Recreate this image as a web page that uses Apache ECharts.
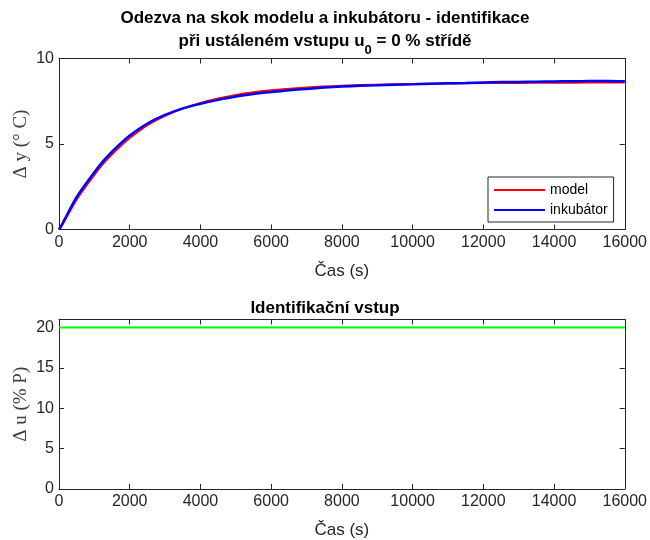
<!DOCTYPE html>
<html>
<head>
<meta charset="utf-8">
<script src="https://cdn.jsdelivr.net/npm/echarts@6/dist/echarts.min.js"></script>
<style>html,body{margin:0;padding:0;background:#fff;}#c{width:650px;height:540px;}</style>
</head>
<body>
<div id="c"></div>
<script>
// Time axis ticks (s)
const timeTicks = [0, 2000, 4000, 6000, 8000, 10000, 12000, 14000, 16000];
// Model response (time s, Δy °C)
const modelTime = [0, 100, 250, 500, 750, 1000, 1250, 1500, 1750, 2000, 2500, 3000, 3500, 4000, 4500, 5000, 5500, 6000, 7000, 8000, 9000, 10000, 11000, 12000, 13000, 14000, 15000, 16000];
const modelY    = [0, 0.3, 0.85, 1.75, 2.5, 3.2, 3.85, 4.4, 4.9, 5.35, 6.1, 6.65, 7.07, 7.4, 7.66, 7.87, 8.03, 8.15, 8.31, 8.41, 8.47, 8.51, 8.54, 8.56, 8.57, 8.58, 8.59, 8.6];
// Incubator measurement (time s, Δy °C)
const incTime = [0, 100, 250, 500, 750, 1000, 1250, 1500, 1750, 2000, 2500, 3000, 3500, 4000, 4500, 5000, 5500, 6000, 6500, 7000, 7500, 8000, 8500, 9000, 9500, 10000, 10500, 11000, 11500, 12000, 12500, 13000, 13500, 14000, 14500, 15000, 15500, 16000];
const incY    = [0, 0.35, 0.95, 1.9, 2.65, 3.35, 4.0, 4.55, 5.05, 5.5, 6.2, 6.7, 7.08, 7.35, 7.58, 7.78, 7.93, 8.04, 8.14, 8.22, 8.3, 8.36, 8.4, 8.43, 8.47, 8.5, 8.53, 8.55, 8.57, 8.6, 8.62, 8.63, 8.64, 8.66, 8.67, 8.68, 8.69, 8.67];
// Identification input (time s, Δu % P)
const inputTime = [0, 16000];
const inputU    = [20, 20];
const yTicksTop = [0, 5, 10];
const yTicksBottom = [0, 5, 10, 15, 20];

const AX = '#262626';
const SANS = '"Liberation Sans", Arial, Helvetica, sans-serif';
const SERIF = '"Liberation Serif", "Times New Roman", serif';

function pairs(xs, ys){ return xs.map((x,i)=>[x, ys[i]]); }

function xAx(grid, pos, labels, name){
  return {
    type:'value', gridIndex:grid, position:pos, min:timeTicks[0], max:timeTicks[timeTicks.length-1], interval:2000,
    axisLine:{show:true, onZero:false, lineStyle:{color:AX, width:1}},
    axisTick:{show:true, inside:true, length:5, lineStyle:{color:AX}},
    axisLabel:{show:labels, color:AX, fontSize:16, fontFamily:SANS, margin:5,
      formatter:function(v){ return String(v); }},
    splitLine:{show:false},
    name: name || '', nameLocation:'middle', nameGap:33, nameMoveOverlap:false,
    nameTextStyle:{color:AX, fontSize:17, fontFamily:SANS}
  };
}
function yAx(grid, pos, labels, max, ticks, name){
  return {
    type:'value', gridIndex:grid, position:pos, min:0, max:max, interval:5,
    axisLine:{show:true, onZero:false, lineStyle:{color:AX, width:1}},
    axisTick:{show:true, inside:true, length:5, lineStyle:{color:AX}},
    axisLabel:{show:labels, color:AX, fontSize:16, fontFamily:SANS, margin:5,
      formatter:function(v){ return ticks.indexOf(v) >= 0 ? String(v) : ''; }},
    splitLine:{show:false},
    name: name || '', nameLocation:'middle', nameGap:28, nameRotate:90, nameMoveOverlap:false,
    nameTextStyle:{color:'#404040', fontSize:19, fontFamily:SERIF}
  };
}

const chart = echarts.init(document.getElementById('c'), null, {renderer:'canvas'});
chart.setOption({
  animation:false,
  backgroundColor:'#fff',
  title:[
    {text:'Odezva na skok modelu a inkubátoru - identifikace', left:'center', top:5,
     textStyle:{fontSize:17, fontWeight:'bold', color:'#000', fontFamily:SANS}},
    {text:'{a|při ustáleném vstupu u}{s|0}{a| = 0 % střídě}', left:'center', top:28,
     textStyle:{rich:{
       a:{fontSize:17, fontWeight:'bold', color:'#000', fontFamily:SANS, lineHeight:20, verticalAlign:'top'},
       s:{fontSize:13, fontWeight:'bold', color:'#000', fontFamily:SANS, lineHeight:20, verticalAlign:'top', padding:[11,0,0,0]}
     }}},
    {text:'Identifikační vstup', left:'center', top:295,
     textStyle:{fontSize:17, fontWeight:'bold', color:'#000', fontFamily:SANS}}
  ],
  grid:[
    {left:59, right:18, top:58.5, height:171, containLabel:false},
    {left:59, right:18, top:319.5, height:172, containLabel:false}
  ],
  xAxis:[
    xAx(0,'bottom',true,'Čas (s)'),
    xAx(0,'top',false),
    xAx(1,'bottom',true,'Čas (s)'),
    xAx(1,'top',false)
  ],
  yAxis:[
    yAx(0,'left',true,10,yTicksTop,'Δ y (° C)'),
    yAx(0,'right',false,10,yTicksTop),
    yAx(1,'left',true,21,yTicksBottom,'Δ u (% P)'),
    yAx(1,'right',false,21,yTicksBottom)
  ],
  legend:{
    data:[{name:'model', icon:'rect'},{name:'inkubátor', icon:'rect'}],
    orient:'vertical', left:488, top:177, itemWidth:51, itemHeight:2, itemGap:6,
    padding:[6,6,5,6], borderColor:AX, borderWidth:1, backgroundColor:'#fff',
    textStyle:{fontSize:14, color:'#000', fontFamily:SANS}
  },
  series:[
    {name:'model', type:'line', xAxisIndex:0, yAxisIndex:0, data:pairs(modelTime, modelY),
     showSymbol:false, smooth:0.3, lineStyle:{color:'#ff0000', width:2}, itemStyle:{color:'#ff0000'}, z:2},
    {name:'inkubátor', type:'line', xAxisIndex:0, yAxisIndex:0, data:pairs(incTime, incY),
     showSymbol:false, smooth:0.3, lineStyle:{color:'#0000ff', width:2.5}, itemStyle:{color:'#0000ff'}, z:3},
    {name:'vstup', type:'line', xAxisIndex:2, yAxisIndex:2, data:pairs(inputTime, inputU),
     showSymbol:false, lineStyle:{color:'#00ff00', width:2}, itemStyle:{color:'#00ff00'}}
  ]
});
</script>
</body>
</html>
